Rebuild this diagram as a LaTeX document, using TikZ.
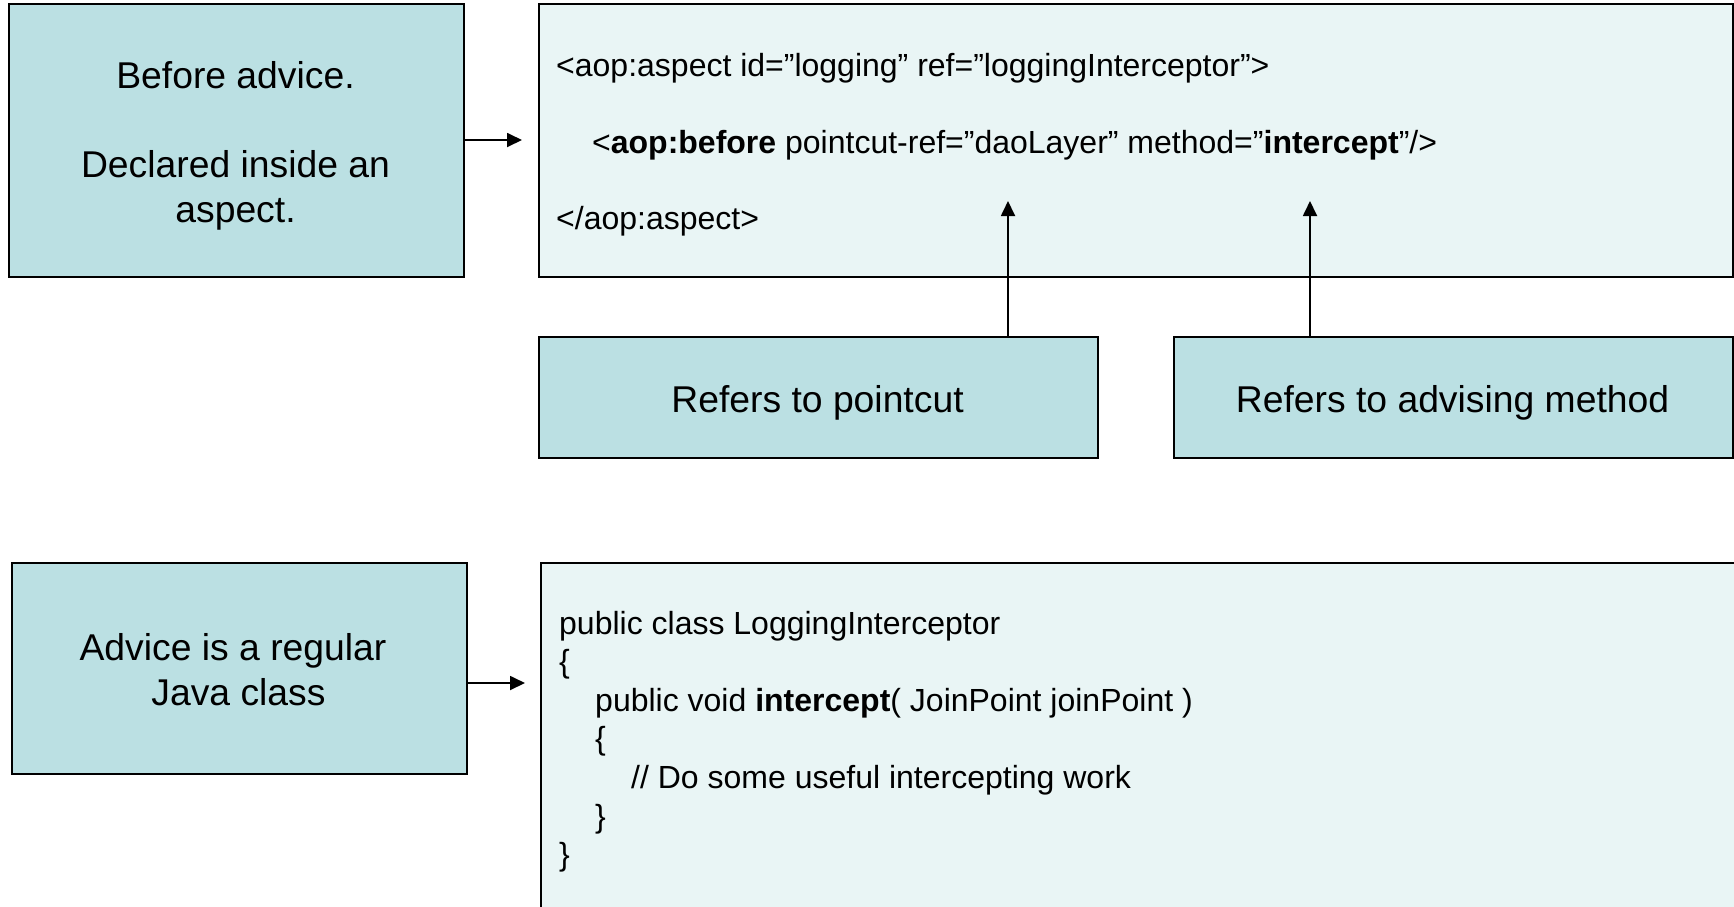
\documentclass[tikz,border=0pt]{standalone}
\usepackage{fontspec}
\setmainfont{Liberation Sans}
\usetikzlibrary{arrows.meta}
\definecolor{boxteal}{RGB}{187,224,227}
\definecolor{codebg}{RGB}{233,245,245}
\tikzset{
  note/.style={draw=black, line width=2pt, fill=boxteal, rectangle, inner sep=0pt, anchor=north west},
  codebox/.style={draw=black, line width=2pt, fill=codebg, rectangle, inner sep=0pt, anchor=north west},
  conn/.style={line width=1.8pt, -{Triangle[length=15pt,width=14pt]}},
  notetext/.style={font=\fontsize{37.3}{45}\selectfont, anchor=base, inner sep=0pt},
  xmltext/.style={anchor=base west, inner sep=0pt, font=\fontsize{32}{76.5}\selectfont},
  javatext/.style={anchor=base west, inner sep=0pt, font=\fontsize{32}{38.6}\selectfont}
}
\newcommand{\ind}{\hskip36pt}
\begin{document}
\begin{tikzpicture}[x=1pt,y=-1pt]
\clip (0,0) rectangle (1734,906);

% boxes
\node[note, minimum width=455pt, minimum height=273pt] (A) at (8,3) {};
\node[codebox, minimum width=1194pt, minimum height=273pt] (B) at (538,3) {};
\node[note, minimum width=559pt, minimum height=121pt] (C) at (538,336) {};
\node[note, minimum width=559pt, minimum height=121pt] (D) at (1173,336) {};
\node[note, minimum width=455pt, minimum height=211pt] (E) at (11,562) {};
\node[codebox, minimum width=1210pt, minimum height=370pt] (F) at (540,562) {};

% box captions
\node[notetext] (a1) at (235.5,88.5) {Before advice.};
\node[notetext] (a2) at (235.5,177) {Declared inside an};
\node[notetext] (a3) at (235.5,222) {aspect.};
\node[notetext] (c1) at (817.5,412) {Refers to pointcut};
\node[notetext] (d1) at (1452.5,412) {Refers to advising method};
\node[notetext] (e1) at (233,660) {Advice is a regular};
\node[notetext] (e2) at (238.5,705) {Java class};

% XML declaration
\node[xmltext] (xml) at (556,76.5) {\vtop{%
  \hbox{<aop:aspect id=”logging” ref=”loggingInterceptor”>}
  \hbox{\ind<\textbf{aop:before} pointcut-ref=”daoLayer” method=”\textbf{intercept}”/>}
  \hbox{</aop:aspect>}}};

% Java class
\node[javatext] (java) at (559,634) {\vtop{%
  \hbox{public class LoggingInterceptor}
  \hbox{\{}
  \hbox{\ind public void \textbf{intercept}( JoinPoint joinPoint )}
  \hbox{\ind\{}
  \hbox{\ind\ind // Do some useful intercepting work}
  \hbox{\ind\}}
  \hbox{\}}}};

% connectors
\coordinate (ab) at (522,140);
\coordinate (ef) at (525,683);
\coordinate (cp) at (1008,201);
\coordinate (dp) at (1310,201);
\draw[conn] (A.east |- ab) -- (ab);
\draw[conn] (E.east |- ef) -- (ef);
\draw[conn] (C.north -| cp) -- (cp);
\draw[conn] (D.north -| dp) -- (dp);
\end{tikzpicture}
\end{document}
